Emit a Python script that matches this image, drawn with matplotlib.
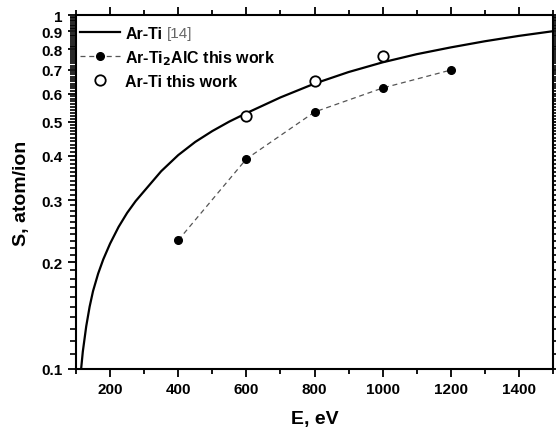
import numpy as np
from matplotlib import pyplot as plt
from matplotlib.ticker import FixedLocator, MultipleLocator

plt.rcParams['font.family'] = ['Liberation Sans', 'DejaVu Sans']
plt.rcParams['font.weight'] = 'bold'

# Ar-Ti reference curve [14]
e_ref = [115, 120, 130, 140, 150, 165, 180, 200, 225, 250, 275, 300, 350,
         400, 450, 500, 550, 600, 700, 800, 900, 1000, 1100, 1200, 1300,
         1400, 1500]
s_ref = [0.100, 0.112, 0.132, 0.150, 0.166, 0.186, 0.204, 0.226, 0.252,
         0.276, 0.298, 0.318, 0.362, 0.402, 0.438, 0.470, 0.500, 0.528,
         0.585, 0.640, 0.690, 0.735, 0.775, 0.810, 0.843, 0.873, 0.900]

# Ar-Ti2AlC this work
e_alc = [400, 600, 800, 1000, 1200]
s_alc = [0.231, 0.392, 0.532, 0.622, 0.699]

# Ar-Ti this work
e_ti = [600, 800, 1000]
s_ti = [0.518, 0.651, 0.766]

y_major = [0.1, 0.2, 0.3, 0.4, 0.5, 0.6, 0.7, 0.8, 0.9, 1.0]
y_labels = ['0.1', '0.2', '0.3', '0.4', '0.5', '0.6', '0.7', '0.8', '0.9', '1']
y_minor = [round(0.1 + 0.01 * i, 2) for i in range(91)]

fig = plt.figure(figsize=(5.56, 4.35), dpi=100)
ax = fig.add_axes([76/556, 1 - 370/435, (553 - 76)/556, (370 - 16)/435])

l1, = ax.plot(e_ref, s_ref, color='black', lw=1.6, label='Ar-Ti')
l2, = ax.plot(e_alc, s_alc, color='#555555', ls=(0, (4, 3)), lw=0.9,
              marker='o', ms=5.5, mfc='black', mec='black',
              label='Ar-Ti$_\\mathbf{2}$AlC this work')
l3, = ax.plot(e_ti, s_ti, ls='none', marker='o', ms=7.5, mfc='white',
              mec='black', mew=1.3, label='Ar-Ti this work')

ax.set_yscale('log')
ax.set_xlim(100, 1500)
ax.set_ylim(0.1, 1.0)

ax.xaxis.set_major_locator(MultipleLocator(200))
ax.xaxis.set_minor_locator(MultipleLocator(100))
ax.yaxis.set_major_locator(FixedLocator(y_major))
ax.yaxis.set_major_formatter(plt.FixedFormatter(y_labels))
ax.yaxis.set_minor_locator(FixedLocator(y_minor))
ax.yaxis.set_minor_formatter(plt.NullFormatter())

ax.tick_params(which='both', direction='out', top=True, right=True,
               labelsize=11, width=1.3)
ax.tick_params(which='major', length=6)
ax.xaxis.set_tick_params(which='minor', length=3.5)
ax.yaxis.set_tick_params(which='minor', length=4.5, width=1.2,
                         left=True, right=True)
for lab in ax.get_xticklabels() + ax.get_yticklabels():
    lab.set_fontweight('bold')
for sp in ax.spines.values():
    sp.set_linewidth(1.5)

ax.set_xlabel('E, eV', fontsize=14, fontweight='bold', labelpad=10)
ax.set_ylabel('S, atom/ion', fontsize=14, fontweight='bold', labelpad=8)

leg = ax.legend(handles=[l1, l2, l3], loc='upper left', frameon=False,
                bbox_to_anchor=(-0.022, 1.01), handlelength=2.5,
                handletextpad=0.35, labelspacing=0.45,
                prop={'weight': 'bold', 'size': 11.5})
fig.canvas.draw()
ax.annotate('[14]', xy=(1, 0.5), xycoords=leg.get_texts()[0],
            xytext=(3, 0), textcoords='offset points', va='center',
            fontsize=11, fontweight='normal', color='#666666')

plt.savefig('out.png', dpi=100)
